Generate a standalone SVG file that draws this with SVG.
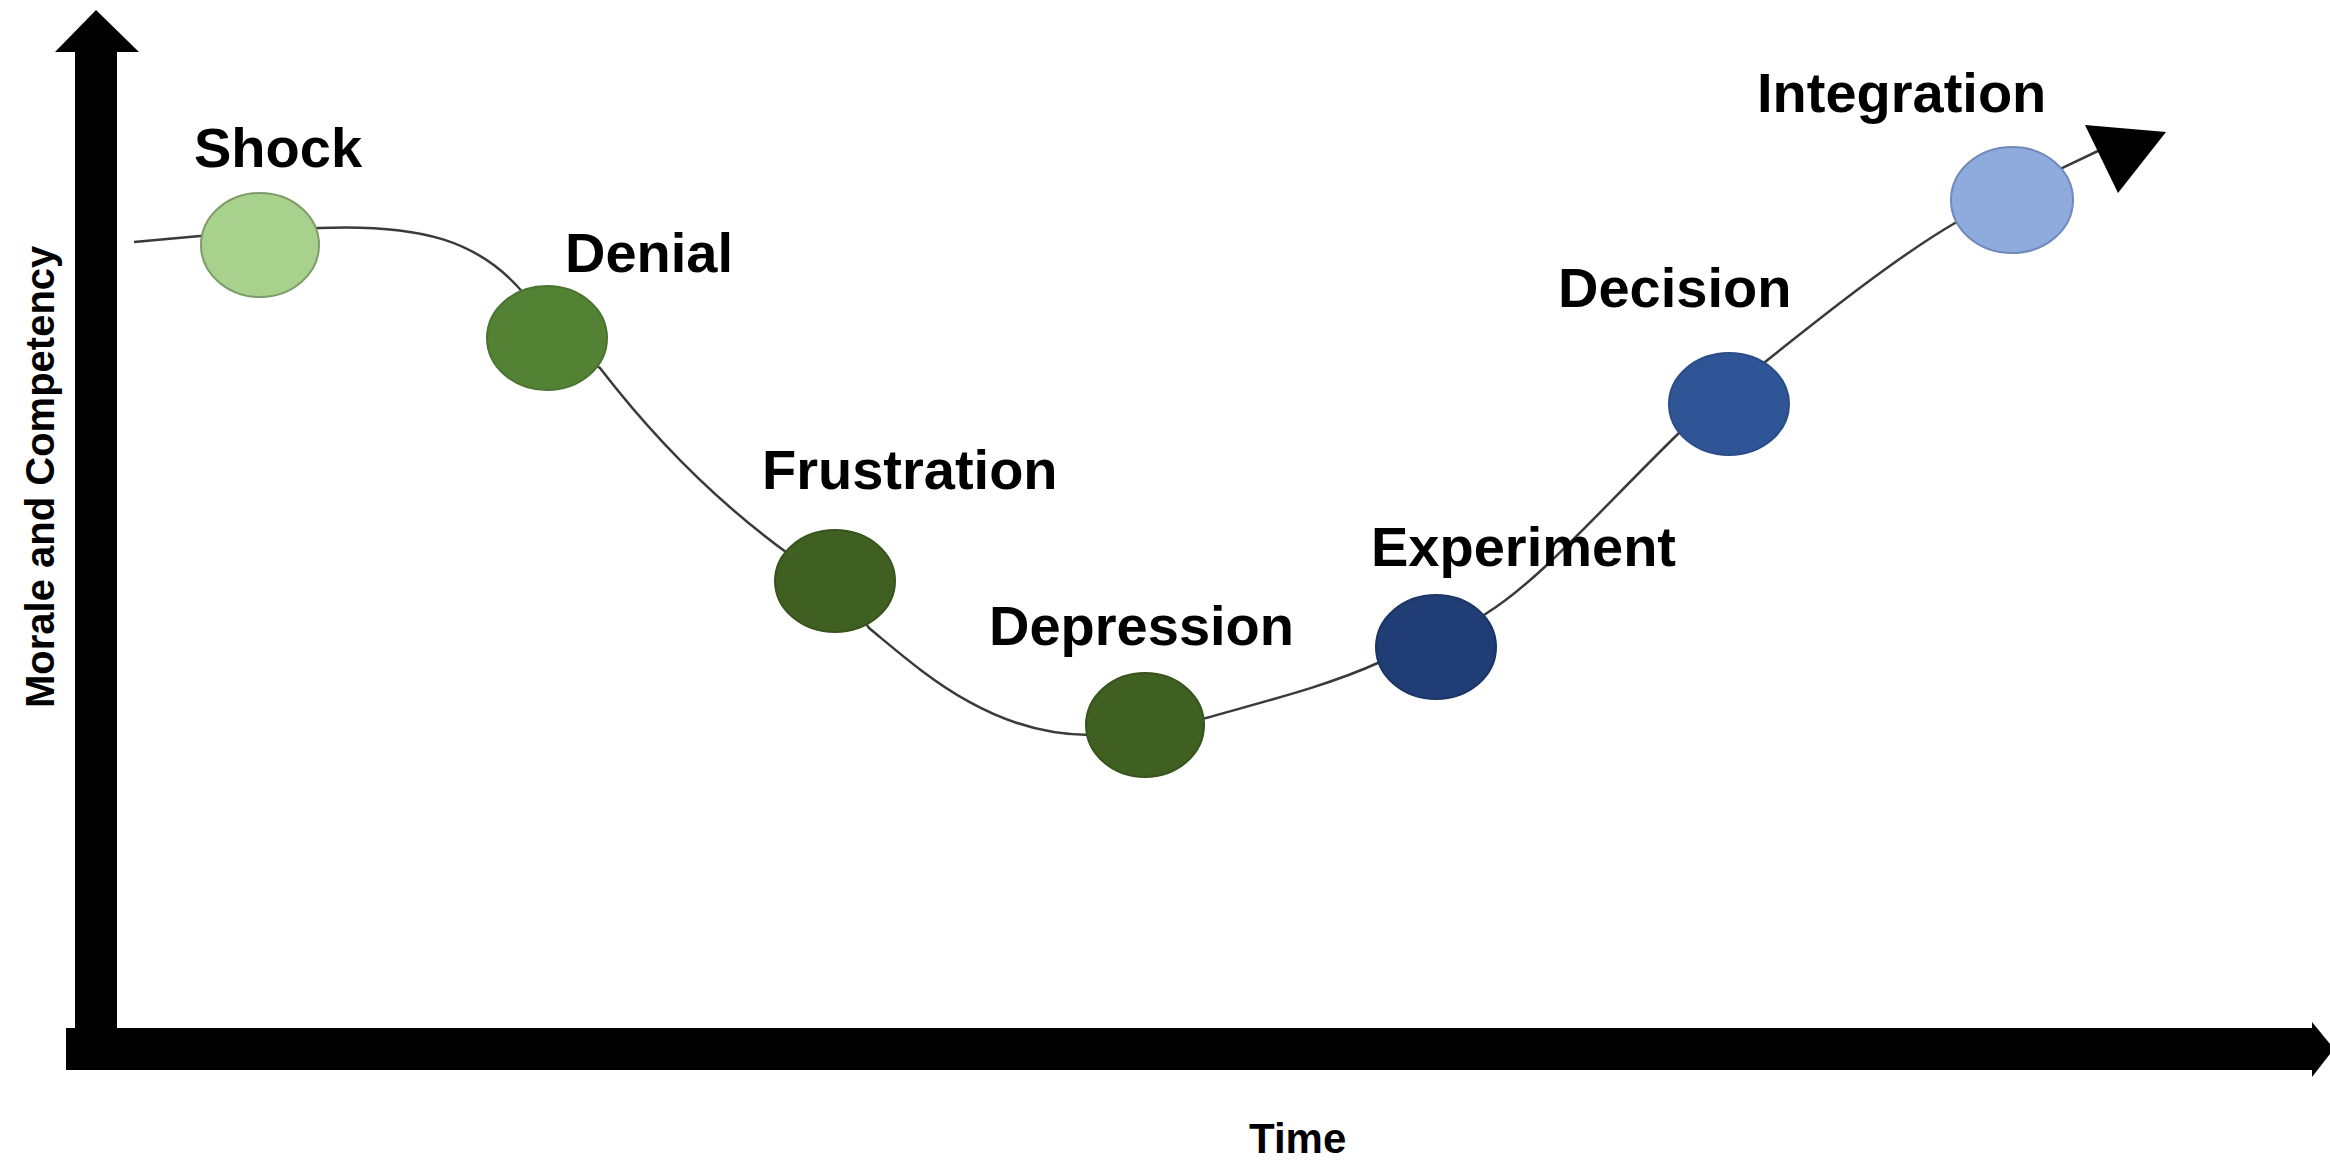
<svg xmlns="http://www.w3.org/2000/svg" width="2330" height="1160" viewBox="0 0 2330 1160">
<style>
.lbl{font-family:"Liberation Sans",Arial,sans-serif;font-weight:bold;font-size:56px;fill:#000}
.axl{font-family:"Liberation Sans",Arial,sans-serif;font-weight:bold;fill:#000}
.curve{fill:none;stroke:#3a3a3a;stroke-width:2.5}
.node{stroke-width:2}
</style>
<rect width="2330" height="1160" fill="#ffffff"/>
<g id="axes">
<rect x="75" y="50" width="42" height="1010" fill="#000"/>
<polygon points="55,52 96,10 139,52" fill="#000"/>
<rect x="66" y="1028" width="2248" height="42" fill="#000"/>
<polygon points="2312,1022 2334,1049 2312,1077" fill="#000"/>
<text class="axl" font-size="40" transform="translate(54,708) rotate(-90)">Morale and Competency</text>
<text class="axl" font-size="42" x="1249" y="1153">Time</text>
</g>
<g id="connectors">
<path class="curve" d="M 134 242 L 200 236 L 260 232 L 319 228 C 420 224 480 240 525 295 L 547 337 L 600 368 C 640 420 700 490 790 555 L 835 581 L 869 628 C 920 670 990 735 1090 735 L 1145 725 L 1206 718 C 1270 700 1330 685 1380 662 L 1436 647 L 1487 613 C 1540 580 1600 510 1680 432 L 1729 404 L 1765 362 C 1830 310 1900 255 1955 223 L 2012 200 L 2062 168 L 2100 150"/>
<polygon points="2085,125 2166,132 2118,193" fill="#000"/>
</g>
<g id="shock">
<ellipse class="node" cx="260" cy="245" rx="59" ry="52" fill="#a9d18e" stroke="#7e9c69"/>
<text class="lbl" x="194" y="167">Shock</text>
</g>
<g id="denial">
<ellipse class="node" cx="547" cy="338" rx="60" ry="52" fill="#548235" stroke="#4a7330"/>
<text class="lbl" x="565" y="272">Denial</text>
</g>
<g id="frustration">
<ellipse class="node" cx="835" cy="581" rx="60" ry="51" fill="#3f6021" stroke="#37541d"/>
<text class="lbl" x="762" y="489">Frustration</text>
</g>
<g id="depression">
<ellipse class="node" cx="1145" cy="725" rx="59" ry="52" fill="#3f6021" stroke="#37541d"/>
<text class="lbl" x="989" y="645">Depression</text>
</g>
<g id="experiment">
<ellipse class="node" cx="1436" cy="647" rx="60" ry="52" fill="#203d75" stroke="#1b3566"/>
<text class="lbl" x="1371" y="566">Experiment</text>
</g>
<g id="decision">
<ellipse class="node" cx="1729" cy="404" rx="60" ry="51" fill="#2f5597" stroke="#2a4c87"/>
<text class="lbl" x="1558" y="307">Decision</text>
</g>
<g id="integration">
<ellipse class="node" cx="2012" cy="200" rx="61" ry="53" fill="#8faadc" stroke="#6f89ba"/>
<text class="lbl" x="1757" y="112">Integration</text>
</g>
</svg>
